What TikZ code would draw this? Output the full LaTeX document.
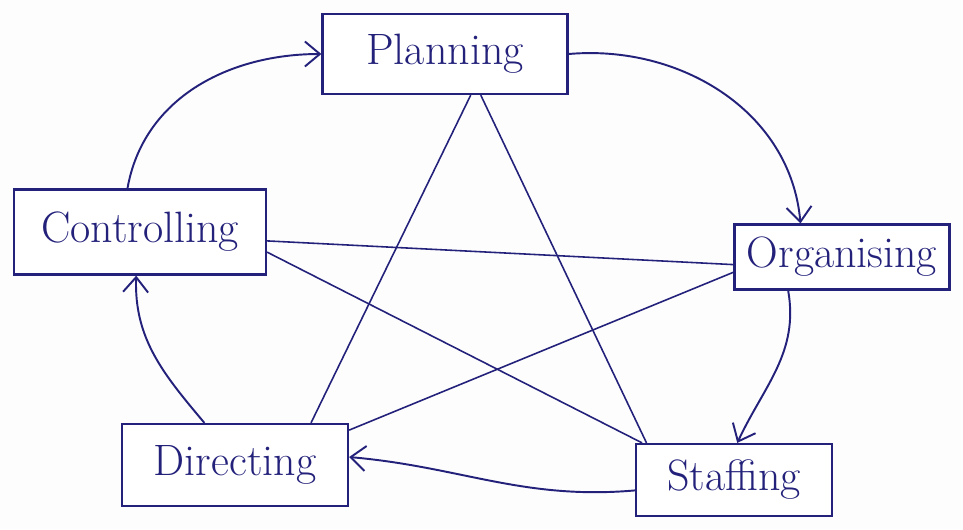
\documentclass[tikz,border=0pt]{standalone}
\usepackage{tikz}
\usetikzlibrary{arrows.meta}
\definecolor{PenInk}{HTML}{23217A}
\definecolor{SheetWhite}{HTML}{FDFDFE}
\tikzset{
  every node/.style={font=\fontsize{25}{30}\selectfont, text=PenInk},
  stage/.style={draw=PenInk, line width=1.3pt, inner sep=0pt, fill=white},
  cycle/.style={-{Straight Barb[length=3mm,width=5mm]}, draw=PenInk, line width=1.1pt},
  link/.style={draw=PenInk, line width=0.9pt},
}

\begin{document}
\begin{tikzpicture}[x=0.02cm,y=-0.02cm]
  % Sheet
  \fill[SheetWhite] (0,0) rectangle (963,529);
  \useasboundingbox (0,0) rectangle (963,529);
  % The five functions
  \node[stage, minimum width=4.9cm, minimum height=1.6cm] (plan) at (445,54) {Planning};
  \node[stage, minimum width=5.04cm, minimum height=1.7cm] (ctrl) at (140,232) {Controlling};
  \node[stage, minimum width=4.3cm, minimum height=1.3cm] (org) at (842,257) {Organising};
  \node[stage, minimum width=4.52cm, minimum height=1.64cm] (dir) at (235,465) {Directing};
  \node[stage, minimum width=3.92cm, minimum height=1.44cm] (staff) at (734,480) {Staffing};
  % Cross links (the star)
  \draw[link] (plan.-58) -- (dir.29);
  \draw[link] (plan.-49) -- (staff.157);
  \draw[link] (ctrl.-4) -- (org.184);
  \draw[link] (ctrl.-9) -- (staff.158);
  \draw[link] (org.188) -- (dir.17);
  % Cycle of functions
  \draw[cycle] (ctrl.106) to[out=80, in=180] (plan.west);
  \draw[cycle] (plan.east) to[out=5, in=95] (org.141);
  \draw[cycle] (org.212) to[out=-80, in=65] (staff.85);
  \draw[cycle] (staff.186) to[out=185, in=-5] (dir.4);
  \draw[cycle] (dir.126) to[out=130, in=-92] (ctrl.265);
\end{tikzpicture}
\end{document}
